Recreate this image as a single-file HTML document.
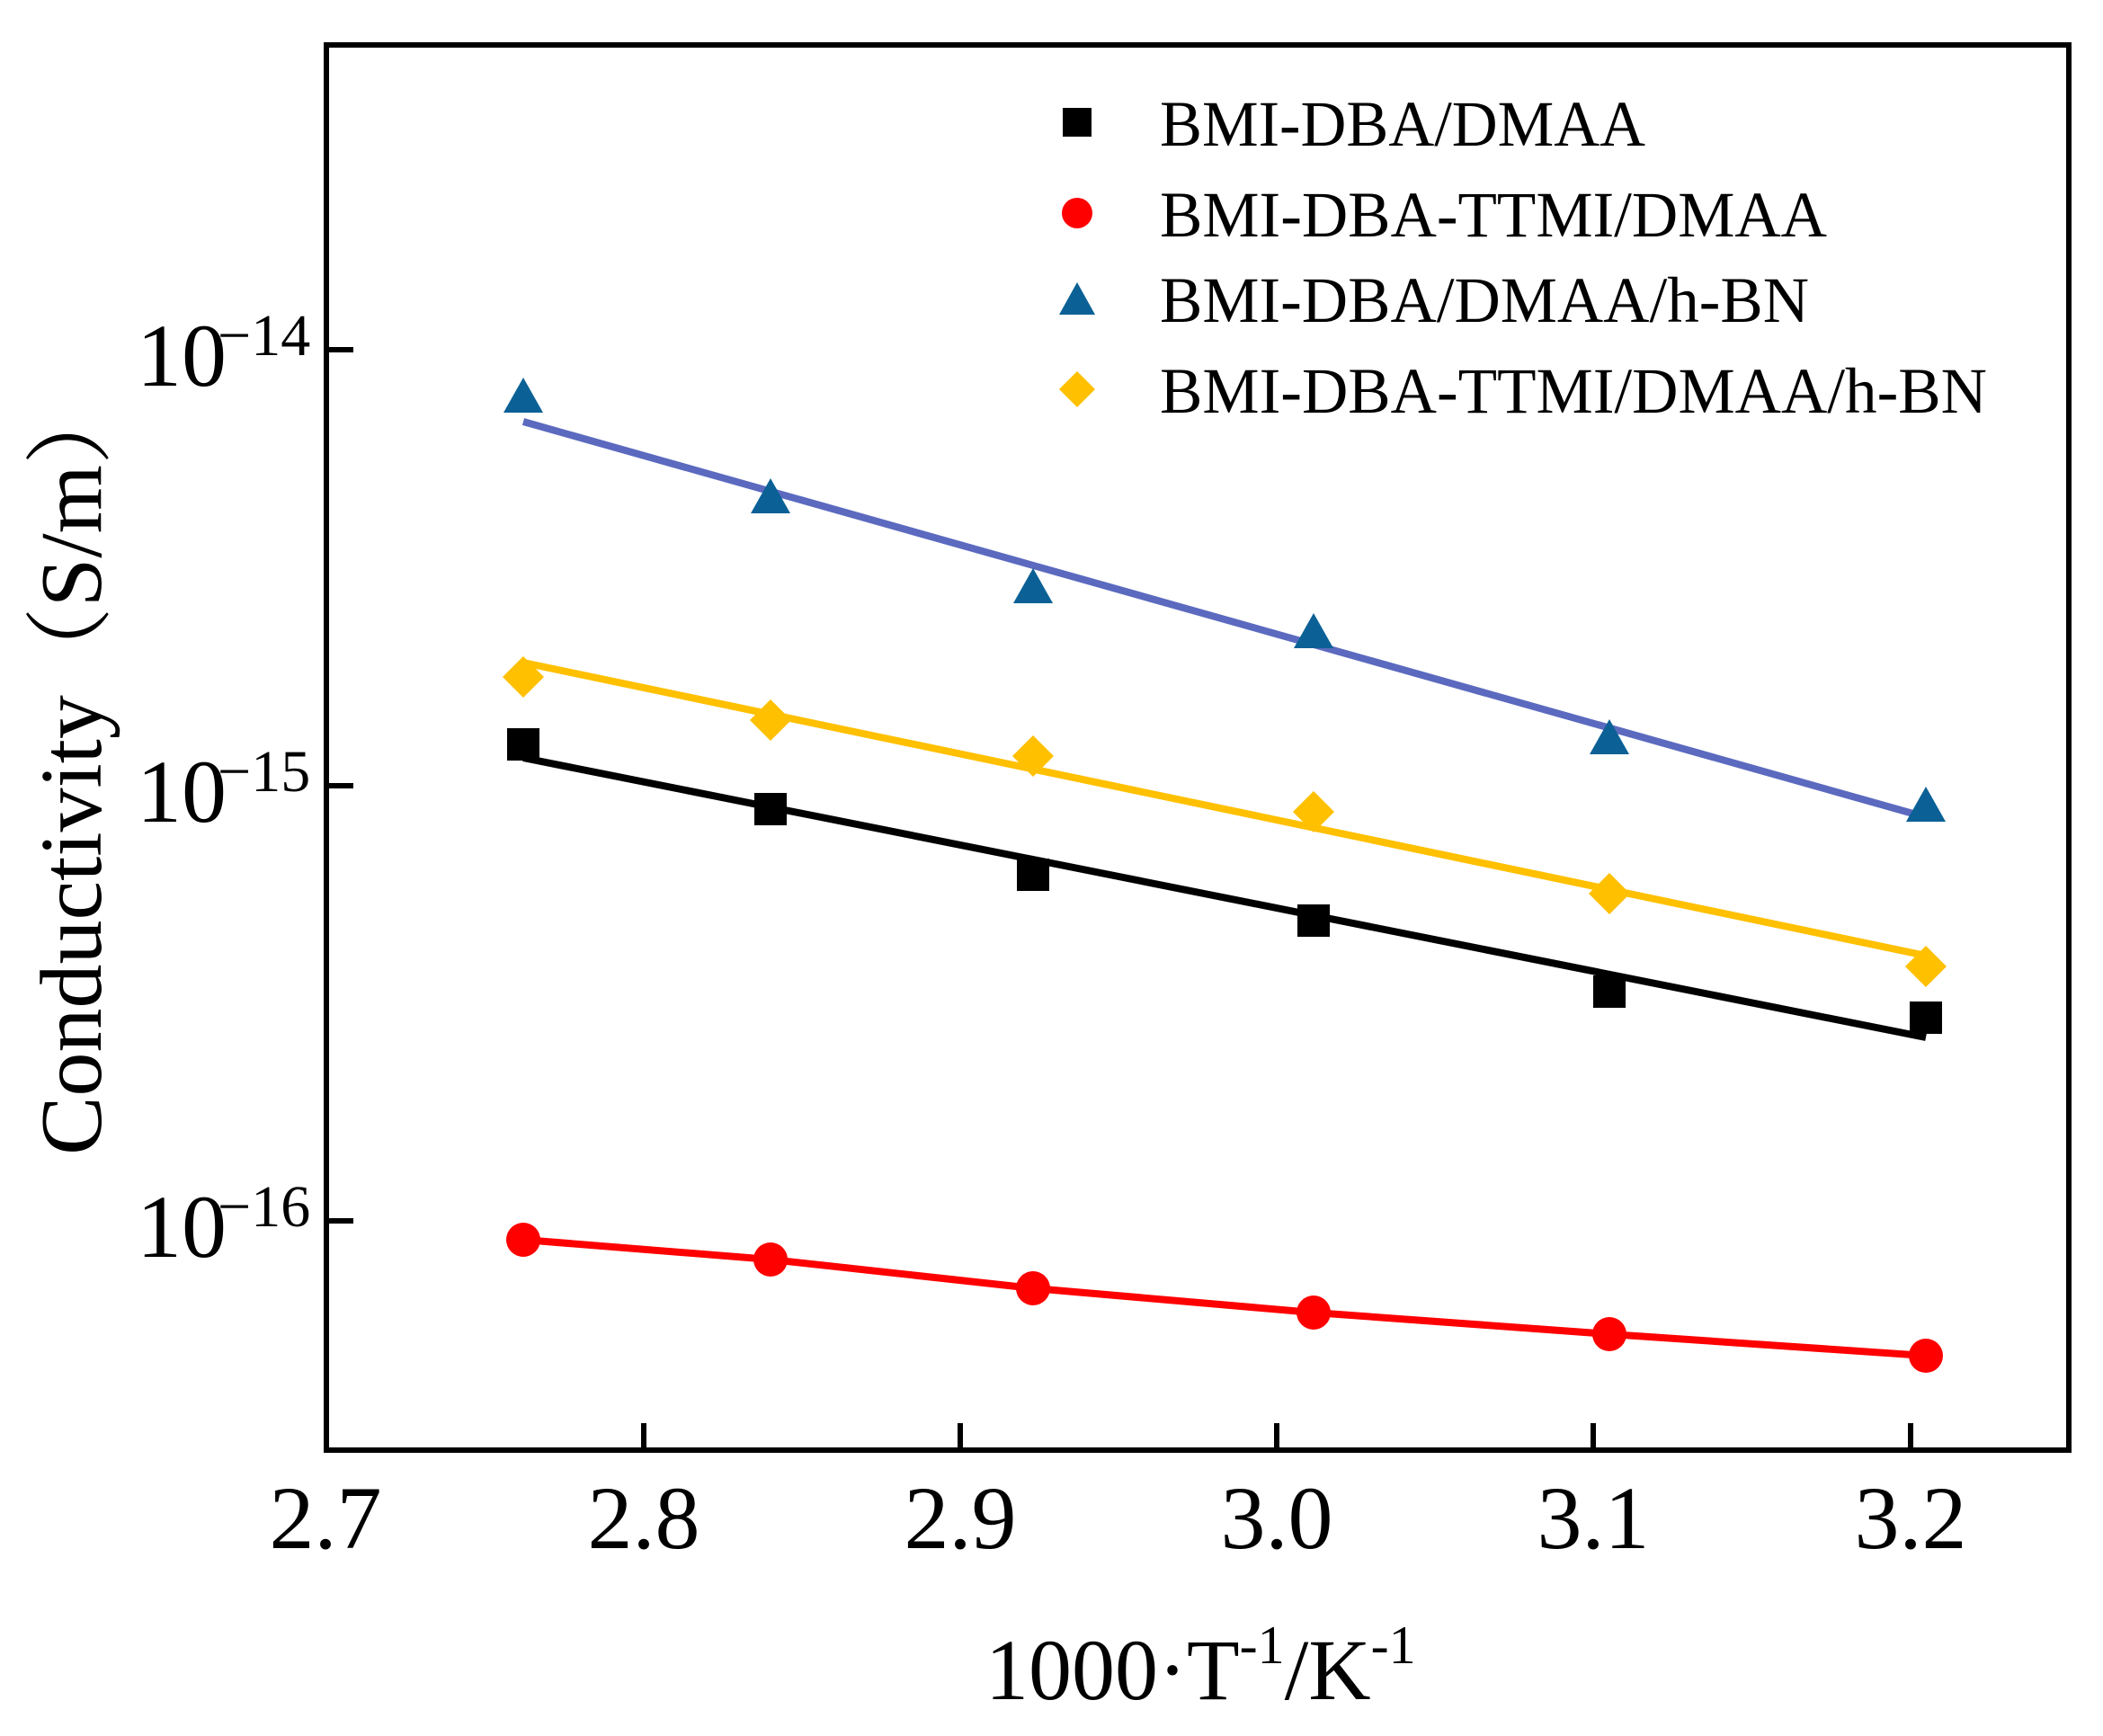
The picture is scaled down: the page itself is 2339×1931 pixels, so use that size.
<!DOCTYPE html>
<html><head><meta charset="utf-8"><style>
html,body{margin:0;padding:0;background:#fff;}
svg{display:block;}
text{font-family:"Liberation Serif","Noto Serif CJK SC",serif;fill:#000;}
</style></head><body>
<svg width="2339" height="1931" viewBox="0 0 2339 1931" xmlns="http://www.w3.org/2000/svg">
<rect x="0" y="0" width="2339" height="1931" fill="#fff"/>
<rect x="363" y="50" width="1938" height="1563" fill="none" stroke="#000" stroke-width="6"/>
<g stroke="#000" stroke-width="6">
<line x1="363" y1="389" x2="393" y2="389"/>
<line x1="363" y1="874" x2="393" y2="874"/>
<line x1="363" y1="1358" x2="393" y2="1358"/>
<line x1="716" y1="1613" x2="716" y2="1583"/>
<line x1="1068" y1="1613" x2="1068" y2="1583"/>
<line x1="1420" y1="1613" x2="1420" y2="1583"/>
<line x1="1772" y1="1613" x2="1772" y2="1583"/>
<line x1="2125" y1="1613" x2="2125" y2="1583"/>
</g>
<g font-size="100">
<text x="152" y="429">10</text><text x="242" y="395" font-size="66">−14</text>
<text x="152" y="914">10</text><text x="242" y="880" font-size="66">−15</text>
<text x="152" y="1398">10</text><text x="242" y="1364" font-size="66">−16</text>
</g>
<g font-size="100" text-anchor="middle">
<text x="362" y="1722">2.7</text>
<text x="716" y="1722">2.8</text>
<text x="1068" y="1722">2.9</text>
<text x="1420" y="1722">3.0</text>
<text x="1772" y="1722">3.1</text>
<text x="2125" y="1722">3.2</text>
</g>
<text x="1096" y="1890" font-size="96">1000·T<tspan font-size="60" dy="-40">-1</tspan><tspan dy="40">/K</tspan><tspan font-size="60" dy="-40">-1</tspan></text>
<text transform="translate(112,852) rotate(-90)" text-anchor="middle" font-size="98">Conductivity（S/m）</text>
<polyline points="582,469 2142,909" fill="none" stroke="#5b6abf" stroke-width="8"/>
<polyline points="582,737 2142,1063" fill="none" stroke="#ffc000" stroke-width="8"/>
<polyline points="582,843 2142,1154" fill="none" stroke="#000" stroke-width="8"/>
<polyline points="582,1379 857,1401 1149,1433 1461,1460 1790,1484 2142,1508" fill="none" stroke="#ff0000" stroke-width="8"/>
<g fill="#000">
<rect x="564" y="810" width="36" height="36"/>
<rect x="839" y="882" width="36" height="36"/>
<rect x="1131" y="955" width="36" height="36"/>
<rect x="1443" y="1006" width="36" height="36"/>
<rect x="1772" y="1085" width="36" height="36"/>
<rect x="2124" y="1114" width="36" height="36"/>
</g>
<g fill="#ff0000">
<circle cx="582" cy="1379" r="19"/>
<circle cx="857" cy="1401" r="19"/>
<circle cx="1149" cy="1433" r="19"/>
<circle cx="1461" cy="1460" r="19"/>
<circle cx="1790" cy="1484" r="19"/>
<circle cx="2142" cy="1508" r="19"/>
</g>
<g fill="#0b6196">
<polygon points="582,420 560,459 604,459"/>
<polygon points="857,532 835,571 879,571"/>
<polygon points="1149,632 1127,671 1171,671"/>
<polygon points="1461,682 1439,721 1483,721"/>
<polygon points="1790,800 1768,839 1812,839"/>
<polygon points="2142,875 2120,914 2164,914"/>
</g>
<g fill="#ffc000">
<polygon points="582,730 605,753 582,776 559,753"/>
<polygon points="857,778 880,801 857,824 834,801"/>
<polygon points="1149,818 1172,841 1149,864 1126,841"/>
<polygon points="1461,880 1484,903 1461,926 1438,903"/>
<polygon points="1790,971 1813,994 1790,1017 1767,994"/>
<polygon points="2142,1052 2165,1075 2142,1098 2119,1075"/>
</g>
<rect x="1182" y="120" width="32" height="32" fill="#000"/>
<circle cx="1198" cy="237" r="17" fill="#ff0000"/>
<polygon points="1198,314 1178,350 1218,350" fill="#0b6196"/>
<polygon points="1198,413 1218,433 1198,453 1178,433" fill="#ffc000"/>
<g font-size="72">
<text x="1290" y="162" textLength="540" lengthAdjust="spacingAndGlyphs">BMI-DBA/DMAA</text>
<text x="1290" y="263" textLength="742" lengthAdjust="spacingAndGlyphs">BMI-DBA-TTMI/DMAA</text>
<text x="1290" y="358" textLength="722" lengthAdjust="spacingAndGlyphs">BMI-DBA/DMAA/h-BN</text>
<text x="1290" y="459" textLength="920" lengthAdjust="spacingAndGlyphs">BMI-DBA-TTMI/DMAA/h-BN</text>
</g>
</svg>
</body></html>
